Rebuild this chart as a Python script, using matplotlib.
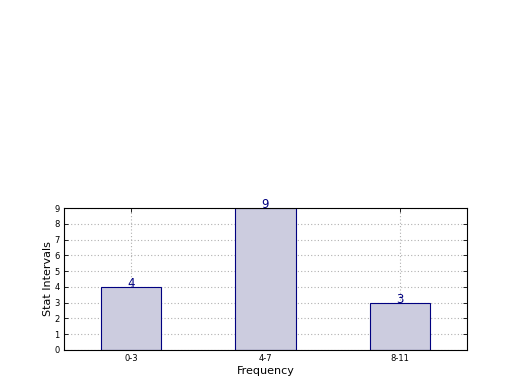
import matplotlib
matplotlib.use("Agg")
import matplotlib.pyplot as plt

# datos
categorias = ["0-3", "4-7", "8-11"]
valores = [4, 9, 3]
yticks = list(range(0, 10))

fig = plt.figure(figsize=(5.2, 3.9), dpi=100)
ax = fig.add_axes([0.123, 0.1026, 0.775, 0.364])

x = range(len(categorias))
barras = ax.bar(x, valores, width=0.45, color="#ccccdf", edgecolor="navy", linewidth=0.8, zorder=2)

# etiquetas sobre las barras
for xi, v in zip(x, valores):
    ax.text(xi, v - 0.18, str(v), ha="center", va="bottom", color="navy", fontsize=8.5)

ax.set_xlim(-0.5, 2.5)
ax.set_ylim(0, 9)
ax.set_xticks(list(x))
ax.set_xticklabels(categorias, fontsize=6)
ax.set_yticks(yticks)
ax.set_yticklabels([str(t) for t in yticks], fontsize=6)
ax.tick_params(direction="in", top=True, right=True, length=3, width=0.6, pad=3)
ax.grid(True, linestyle=(0, (1, 2)), color="#b0b0b0", linewidth=0.8, zorder=1)
ax.set_axisbelow(True)
for s in ax.spines.values():
    s.set_linewidth(0.8)

ax.set_xlabel("Frequency", fontsize=8, labelpad=2)
ax.set_ylabel("Stat Intervals", fontsize=8, labelpad=1)

plt.savefig("out.png", dpi=100)
